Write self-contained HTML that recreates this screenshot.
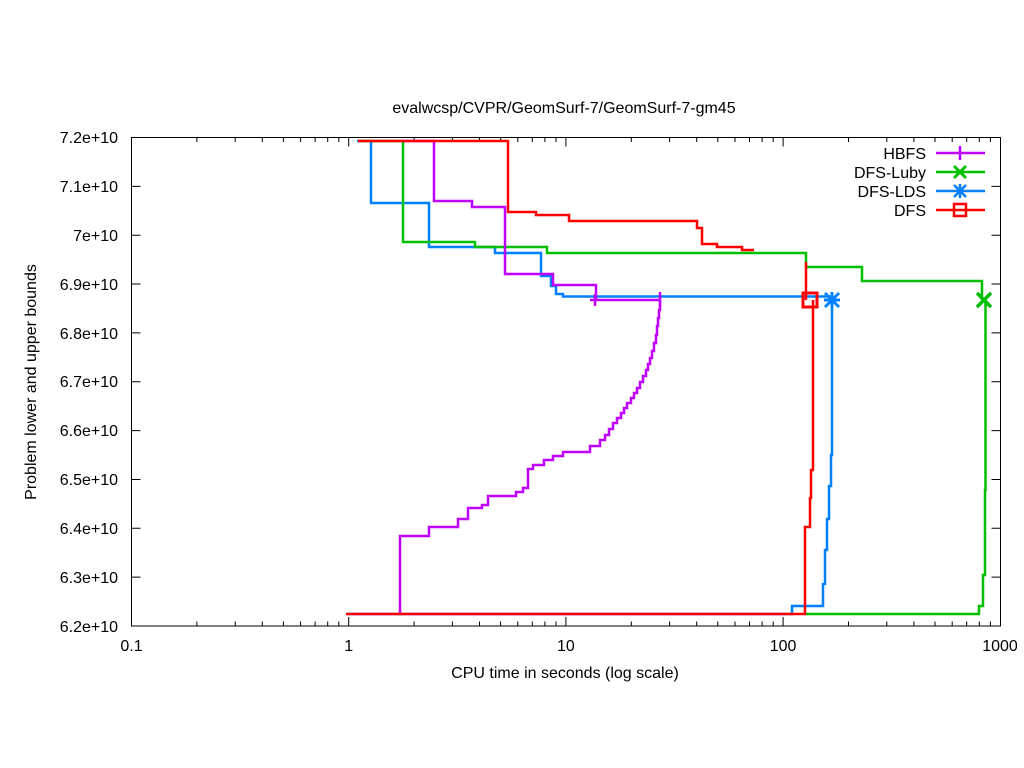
<!DOCTYPE html>
<html><head><meta charset="utf-8"><style>
html,body{margin:0;padding:0;background:#fff;}
svg{display:block;font-family:"Liberation Sans",sans-serif;}
</style></head><body>
<svg width="1024" height="768" viewBox="0 0 1024 768" xmlns="http://www.w3.org/2000/svg">
<rect width="1024" height="768" fill="#fff"/>
<text x="564" y="113" font-size="16" text-anchor="middle">evalwcsp/CVPR/GeomSurf-7/GeomSurf-7-gm45</text>
<g stroke="#000" stroke-width="1" fill="none">
<rect x="131.5" y="137.5" width="869" height="488.5"/>
<path d="M131.5 137.5h9M131.5 186.35h9M131.5 235.2h9M131.5 284.05h9M131.5 332.9h9M131.5 381.75h9M131.5 430.6h9M131.5 479.45h9M131.5 528.3h9M131.5 577.15h9
M1000.5 137.5h-9M1000.5 186.35h-9M1000.5 235.2h-9M1000.5 284.05h-9M1000.5 332.9h-9M1000.5 381.75h-9M1000.5 430.6h-9M1000.5 479.45h-9M1000.5 528.3h-9M1000.5 577.15h-9"/>
<path d="
M348.7 626v-9M565.9 626v-9M783.1 626v-9
M348.7 137.5v9M565.9 137.5v9M783.1 137.5v9
M196.9 626v-4.5M235.2 626v-4.5M262.3 626v-4.5M283.4 626v-4.5M300.6 626v-4.5M315.1 626v-4.5M327.7 626v-4.5M338.8 626v-4.5
M414.1 626v-4.5M452.4 626v-4.5M479.5 626v-4.5M500.6 626v-4.5M517.8 626v-4.5M532.3 626v-4.5M544.9 626v-4.5M556 626v-4.5
M631.3 626v-4.5M669.6 626v-4.5M696.7 626v-4.5M717.8 626v-4.5M735 626v-4.5M749.5 626v-4.5M762.1 626v-4.5M773.2 626v-4.5
M848.5 626v-4.5M886.8 626v-4.5M913.9 626v-4.5M935 626v-4.5M952.2 626v-4.5M966.7 626v-4.5M979.3 626v-4.5M990.4 626v-4.5
M196.9 137.5v4.5M235.2 137.5v4.5M262.3 137.5v4.5M283.4 137.5v4.5M300.6 137.5v4.5M315.1 137.5v4.5M327.7 137.5v4.5M338.8 137.5v4.5
M414.1 137.5v4.5M452.4 137.5v4.5M479.5 137.5v4.5M500.6 137.5v4.5M517.8 137.5v4.5M532.3 137.5v4.5M544.9 137.5v4.5M556 137.5v4.5
M631.3 137.5v4.5M669.6 137.5v4.5M696.7 137.5v4.5M717.8 137.5v4.5M735 137.5v4.5M749.5 137.5v4.5M762.1 137.5v4.5M773.2 137.5v4.5
M848.5 137.5v4.5M886.8 137.5v4.5M913.9 137.5v4.5M935 137.5v4.5M952.2 137.5v4.5M966.7 137.5v4.5M979.3 137.5v4.5M990.4 137.5v4.5"/>
</g>
<g font-size="16" text-anchor="end">
<text x="118" y="143">7.2e+10</text><text x="118" y="192">7.1e+10</text><text x="118" y="241">7e+10</text>
<text x="118" y="290">6.9e+10</text><text x="118" y="339">6.8e+10</text><text x="118" y="387">6.7e+10</text>
<text x="118" y="436">6.6e+10</text><text x="118" y="485">6.5e+10</text><text x="118" y="534">6.4e+10</text>
<text x="118" y="583">6.3e+10</text><text x="118" y="632">6.2e+10</text>
</g>
<g font-size="16" text-anchor="middle">
<text x="131.5" y="651">0.1</text><text x="348.7" y="651">1</text><text x="565.9" y="651">10</text>
<text x="783.1" y="651">100</text><text x="1000" y="651">1000</text>
<text x="565" y="678">CPU time in seconds (log scale)</text>
<text transform="translate(36,382) rotate(-90)">Problem lower and upper bounds</text>
</g>
<g fill="none" stroke-width="2.5" stroke-linejoin="miter">
<path stroke="#0080ff" d="M357 141H371V203H429V247H495V253H541V276H551V286H556V294H563V296.5H832"/>
<path stroke="#0080ff" d="M347 614H792V606H823V584H825V550H827V519H829V486H831V455H832V300"/>
<path stroke="#00c000" d="M360 141H403V242H475V247H547V253H806V267H862V281H982V300"/>
<path stroke="#00c000" d="M806 614H979V606H983V575H985V490H985.5V300"/>
<path stroke="#c000ff" d="M402 141H434V201H472V207H505V274H553V285H596V300"/>
<path stroke="#c000ff" d="M590 300H660"/>
<path stroke="#c000ff" d="M400 614V536H429V527H458V519H468V508H482V505H488V496H516V492H523V488H528V469H533V465H544V460H553V456H563V452H590V446H600V440H605V435H609V429H613V423H617V418H621V413H624V408H627V403H631V398H634V393H637V388H640V382H643V376H646V370H648V364H650V358H652V351H654V343H656V335H657V326H658V318H659V310H660V300"/>
<path stroke="#c000ff" d="M595 294V306M660 292V306"/>
<path stroke="#ff0000" d="M358 141H508V212H536V215H569V221H697V228H702V244H717V247H742V250H754"/>
<path stroke="#ff0000" d="M806 262V300"/>
<path stroke="#ff0000" d="M346 614H805V527H810V498H811V470H813V300"/>
</g>
<g fill="none" stroke-width="3">
<rect x="803" y="293" width="14" height="14" stroke="#ff0000"/>
<path stroke="#0080ff" d="M825 293l14 14M839 293l-14 14M832 292v16M824 300h16"/>
<path stroke="#00c000" stroke-width="3.5" d="M977 293l14 14M991 293l-14 14"/>
</g>
<g font-size="16" text-anchor="end">
<text x="926" y="159">HBFS</text><text x="926" y="178">DFS-Luby</text>
<text x="926" y="197">DFS-LDS</text><text x="926" y="216">DFS</text>
</g>
<g fill="none" stroke-width="2.5">
<path stroke="#c000ff" d="M936 153H985M960 146V160"/>
<path stroke="#00c000" d="M936 172H985"/><path stroke="#00c000" stroke-width="3" d="M954 166l12 12M966 166l-12 12"/>
<path stroke="#0080ff" d="M936 191H985M954 185l12 12M966 185l-12 12M960 184v14"/>
<path stroke="#ff0000" d="M936 210H985"/><rect x="954" y="204" width="12" height="12" stroke="#ff0000"/>
</g>
</svg>
</body></html>
